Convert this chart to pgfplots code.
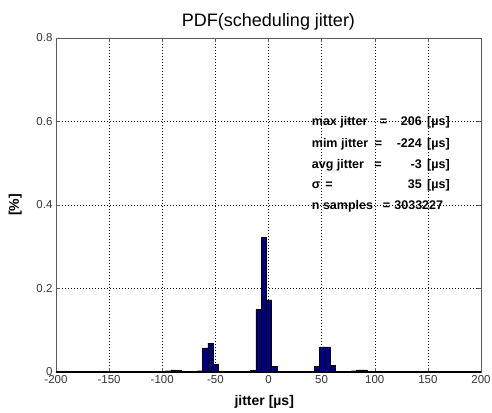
\documentclass[border=0pt]{standalone}
\usepackage{fontspec}
\setmainfont{Liberation Sans}
\usepackage{pgfplots}
\pgfplotsset{compat=1.18}

\definecolor{barblue}{RGB}{0,0,128}
\definecolor{axgray}{RGB}{90,90,90}

\begin{document}
\begin{tikzpicture}
\useasboundingbox (-56pt,-40pt) rectangle (436pt,372pt);
\begin{axis}[
  at={(0pt,0pt)}, anchor=south west,
  width=425pt, height=334pt, scale only axis,
  xmin=-200, xmax=200, ymin=0, ymax=0.8,
  xtick={-200,-150,...,200},
  ytick={0,0.2,0.4,0.6,0.8},
  yticklabels={0,0.2,0.4,0.6,0.8},
  /pgf/number format/assume math mode=true,
  tick label style={font=\fontsize{11.5}{13}\selectfont, text=black!80},
  axis line style={axgray, line width=0.6pt},
  tick style={axgray, line width=0.5pt},
  tick align=inside, major tick length=4pt,
  xtick pos=both, ytick pos=both,
  grid=major,
  major grid style={black, line width=0.5pt, dash pattern=on 0.7pt off 2.3pt},
  title={PDF(scheduling jitter)},
  title style={font=\fontsize{18}{20}\selectfont, at={(0.5,1)}, anchor=base, yshift=5pt},
  xlabel={\textbf{jitter [µs]}},
  xlabel style={font=\fontsize{14}{16}\selectfont, at={(0.49,0)}, anchor=base, yshift=-33pt},
  ylabel={\textbf{[\%]}},
  ylabel style={font=\fontsize{14}{16}\selectfont, at={(0,0.5)}, anchor=base, yshift=37pt},
]
\addplot[ybar, bar width=5, bar shift=0pt, fill=barblue, draw=black, line width=0.4pt]
coordinates {
 (-129.5,0.001)
 (-94.5,0.003) (-89.5,0.005) (-84.5,0.004) (-79.5,0.002)
 (-64.5,0.003) (-59.5,0.058) (-54.5,0.069) (-49.5,0.018)
 (-14.5,0.004) (-9.5,0.150) (-4.5,0.323) (0.5,0.173) (5.5,0.014)
 (45.5,0.014) (50.5,0.060) (55.5,0.060) (60.5,0.016)
 (80.5,0.003) (85.5,0.005) (90.5,0.005)
 (175.5,0.001) (185.5,0.002) (190.5,0.002)
};
\addplot[black, line width=1.6pt] coordinates {(-200,0) (200,0)};
\end{axis}
\begin{scope}[every node/.style={font=\fontsize{12.5}{15}\selectfont\bfseries, inner sep=0pt}]
\node[anchor=base west] at (255.7pt,246pt) {max jitter};
\node[anchor=base] at (327.5pt,246pt) {=};
\node[anchor=base east] at (366pt,246pt) {206};
\node[anchor=base west] at (371pt,246pt) {[µs]};
\node[anchor=base west] at (255.7pt,224.5pt) {mim jitter};
\node[anchor=base] at (322.5pt,224.5pt) {=};
\node[anchor=base east] at (366pt,224.5pt) {-224};
\node[anchor=base west] at (371pt,224.5pt) {[µs]};
\node[anchor=base west] at (255.7pt,203.5pt) {avg jitter};
\node[anchor=base] at (322pt,203.5pt) {=};
\node[anchor=base east] at (366pt,203.5pt) {-3};
\node[anchor=base west] at (371pt,203.5pt) {[µs]};
\node[anchor=base west] at (255.7pt,183pt) {σ};
\node[anchor=base] at (273pt,183pt) {=};
\node[anchor=base east] at (366pt,183pt) {35};
\node[anchor=base west] at (371pt,183pt) {[µs]};
\node[anchor=base west] at (255.7pt,162pt) {n samples};
\node[anchor=base] at (330.5pt,162pt) {=};
\node[anchor=base east] at (387.3pt,162pt) {3033227};
\end{scope}
\end{tikzpicture}
\end{document}
